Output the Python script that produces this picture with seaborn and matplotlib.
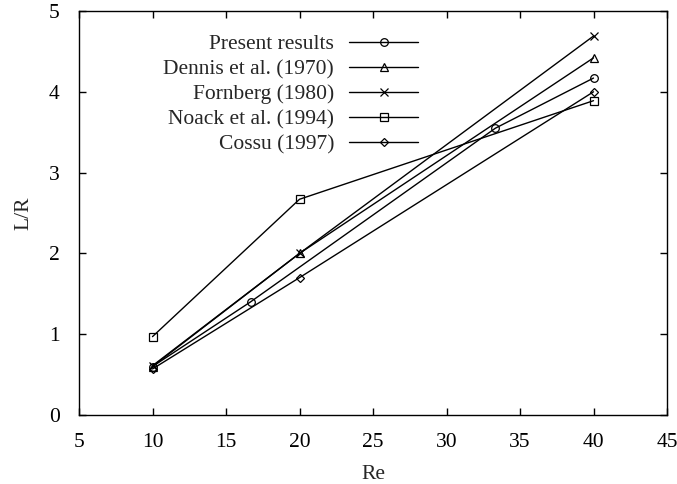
import matplotlib
matplotlib.use("Agg")
import matplotlib.pyplot as plt
import seaborn as sns
import pandas as pd

sns.set_theme(style="ticks")
plt.rcParams['font.family'] = ['Liberation Serif', 'DejaVu Serif']
plt.rcParams['mathtext.fontset'] = 'stix'

# Data
present_re = [10, 16.67, 33.33, 40]
present_lr = [0.60, 1.40, 3.55, 4.17]

dennis_re = [10, 20, 40]
dennis_lr = [0.60, 2.00, 4.42]

fornberg_re = [10, 20, 40]
fornberg_lr = [0.61, 2.00, 4.69]

noack_re = [10, 20, 40]
noack_lr = [0.97, 2.67, 3.89]

cossu_re = [10, 20, 40]
cossu_lr = [0.57, 1.70, 4.00]

series_names = ["Present results", "Dennis et al. (1970)", "Fornberg (1980)",
                "Noack et al. (1994)", "Cossu (1997)"]
series = [(present_re, present_lr), (dennis_re, dennis_lr), (fornberg_re, fornberg_lr),
          (noack_re, noack_lr), (cossu_re, cossu_lr)]
marker_list = ["o", "^", "x", "s", "D"]
marker_sizes = [5.5, 5.5, 5.5, 5.5, 4.5]

x_ticks = [5, 10, 15, 20, 25, 30, 35, 40, 45]
y_ticks = [0, 1, 2, 3, 4, 5]

FS = 15.5

fig = plt.figure(figsize=(6.77, 4.84), dpi=100)
ax = fig.add_axes([79/677, 1 - 415/484, (667 - 79)/677, (415 - 11)/484])

for name, (xs, ys), m, ms in zip(series_names, series, marker_list, marker_sizes):
    df = pd.DataFrame({"Re": xs, "L/R": ys})
    sns.lineplot(data=df, x="Re", y="L/R", ax=ax, color="black", linewidth=1.0,
                 marker=m, markersize=ms, markerfacecolor="none",
                 markeredgecolor="black", markeredgewidth=0.9, label=name)

ax.set_xlim(5, 45)
ax.set_ylim(0, 5)
ax.set_xticks(x_ticks)
ax.set_yticks(y_ticks)
ax.set_xlabel("Re", fontsize=FS, labelpad=9)
ax.set_ylabel("L/R", fontsize=FS, labelpad=11)
ax.tick_params(direction="in", length=5, width=1, top=True, right=True,
               labelsize=FS, colors="black")
ax.tick_params(axis="x", pad=13)
ax.tick_params(axis="y", pad=14)
for s in ax.spines.values():
    s.set_color("black")
    s.set_linewidth(1.0)

leg = ax.legend(loc="upper right", bbox_to_anchor=((418 - 79)/588, (415 - 34)/404),
                frameon=False, markerfirst=False, handlelength=3.2,
                handletextpad=0.7, labelspacing=0.23, borderpad=0,
                borderaxespad=0, fontsize=FS)

fig.savefig("out.png", dpi=100)
